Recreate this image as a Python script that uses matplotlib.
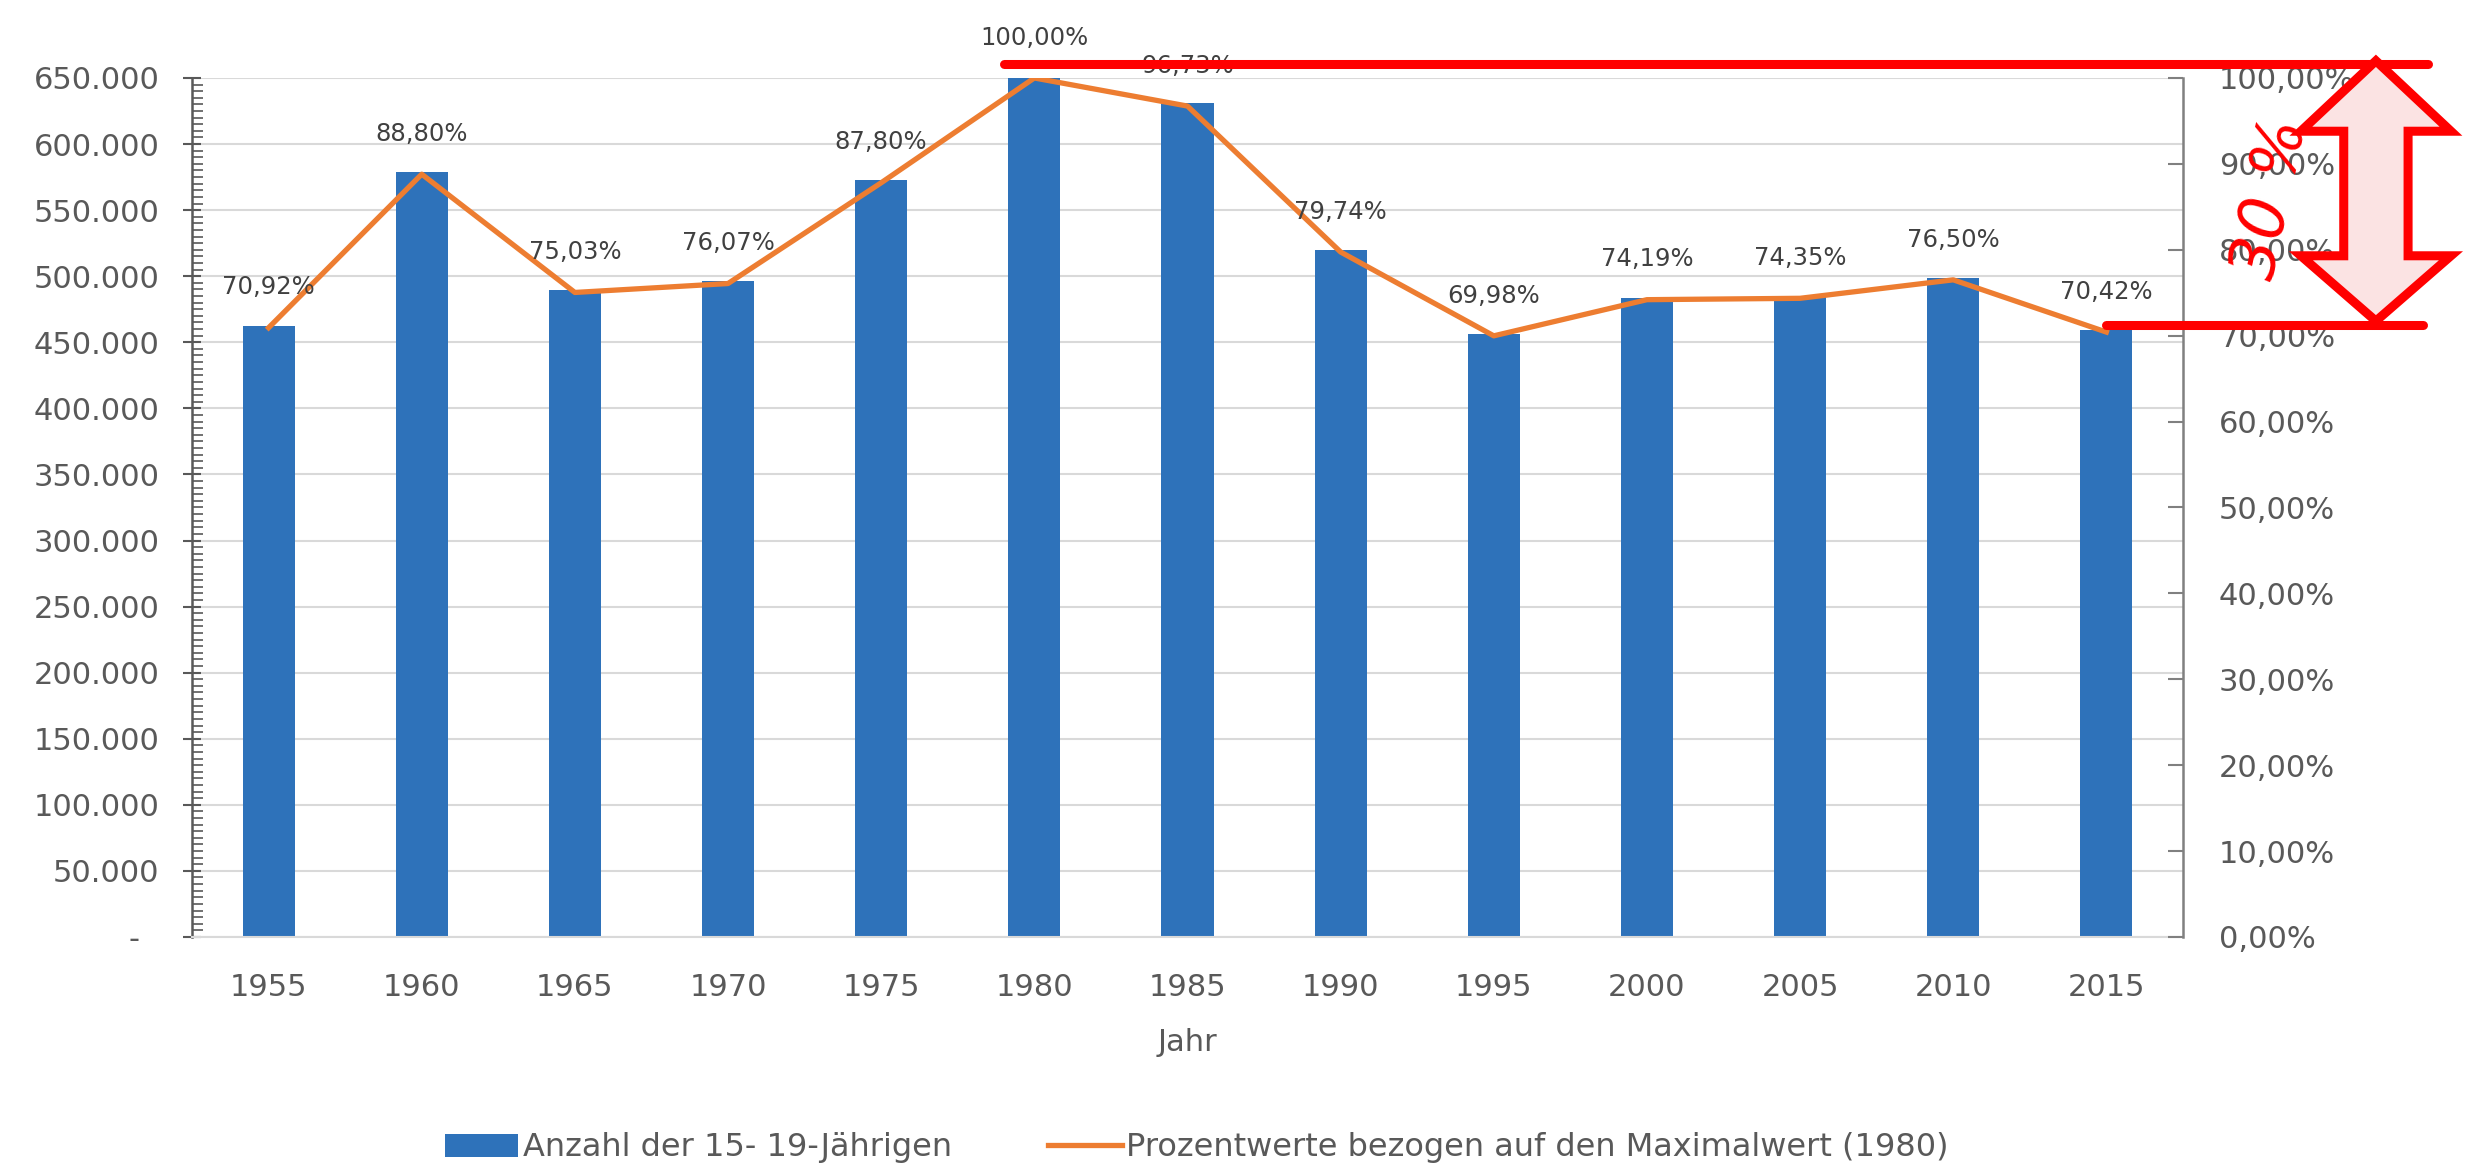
import numpy as np
import matplotlib
matplotlib.use('Agg')
import matplotlib.pyplot as plt
from matplotlib.patches import Polygon
from matplotlib.ticker import FuncFormatter, MultipleLocator

# data
years = ['1955', '1960', '1965', '1970', '1975', '1980', '1985',
         '1990', '1995', '2000', '2005', '2010', '2015']
anzahl = [462400, 579000, 489200, 496000, 572500, 652000, 630700,
          519900, 456300, 483700, 484800, 498800, 459100]
prozent = [0.7092, 0.8880, 0.7503, 0.7607, 0.8780, 1.0000, 0.9673,
           0.7974, 0.6998, 0.7419, 0.7435, 0.7650, 0.7042]

bar_label = 'Anzahl der 15- 19-Jährigen'
line_label = 'Prozentwerte bezogen auf den Maximalwert (1980)'

plt.rcParams['font.family'] = ['DejaVu Sans']
grey = '#595959'

fig = plt.figure(figsize=(24.68, 11.69), dpi=100)
ax = fig.add_axes([0.0778, 0.1985, 0.8067, 0.7348])
ax2 = ax.twinx()

x = np.arange(len(years))
bars = ax.bar(x, anzahl, width=0.34, color='#2E72BA', zorder=2)
line, = ax2.plot(x, prozent, color='#ED7D31', lw=3.8, solid_joinstyle='round', zorder=3)

for xi, p in zip(x, prozent):
    ax2.annotate(f'{p*100:.2f}%'.replace('.', ','), (xi, p), xytext=(0, 29),
                 textcoords='offset points', ha='center', va='center',
                 fontsize=17.5, color='#404040', zorder=4)

# left axis
ax.set_xlim(-0.5, len(years) - 0.5)
ax.set_ylim(0, 650000)
ax.yaxis.set_major_locator(MultipleLocator(50000))
ax.yaxis.set_minor_locator(MultipleLocator(5000))
ax.yaxis.set_major_formatter(FuncFormatter(
    lambda v, pos: '-  ' if v == 0 else f'{int(v):,}'.replace(',', '.')))
ax.tick_params(axis='y', which='major', direction='inout', length=13, width=1.5,
               color=grey, labelsize=22, labelcolor=grey, pad=17)
ax.tick_params(axis='y', which='minor', direction='in', length=8, width=1.2, color=grey)
ax.grid(axis='y', color='#D9D9D9', lw=1.5, zorder=0)
ax.set_axisbelow(True)
ax.set_xticks(x)
ax.set_xticklabels(years)
ax.tick_params(axis='x', length=0, labelsize=22, labelcolor=grey, pad=26)
ax.set_xlabel('Jahr', fontsize=22, color=grey, labelpad=19)

for s in ['top', 'right']:
    ax.spines[s].set_visible(False)
ax.spines['left'].set_color(grey)
ax.spines['left'].set_linewidth(1.8)
ax.spines['bottom'].set_color('#D9D9D9')
ax.spines['bottom'].set_linewidth(1.5)

# right axis
ax2.set_ylim(0, 1.0)
ax2.yaxis.set_major_locator(MultipleLocator(0.1))
ax2.yaxis.set_major_formatter(FuncFormatter(
    lambda v, pos: f'{v*100:.2f}%'.replace('.', ',')))
ax2.tick_params(axis='y', direction='in', length=11, width=1.5, color='#808080',
                labelsize=22, labelcolor=grey, pad=26)
for s in ['top', 'left', 'bottom']:
    ax2.spines[s].set_visible(False)
ax2.spines['right'].set_color('#808080')
ax2.spines['right'].set_linewidth(1.8)

# red annotation: 100 % vs 70 %
red = '#FF0000'
ax2.plot([4.8, 14.1], [1.016, 1.016], color=red, lw=6.5, solid_capstyle='round',
         clip_on=False, zorder=6)
ax2.plot([12.0, 14.07], [0.712, 0.712], color=red, lw=6.5, solid_capstyle='round',
         clip_on=False, zorder=6)

cx, hw, sw = 13.76, 0.49, 0.21
y_top, y_hb_top, y_hb_bot, y_bot = 1.02, 0.938, 0.793, 0.717
arrow = Polygon([(cx, y_top), (cx + hw, y_hb_top), (cx + sw, y_hb_top),
                 (cx + sw, y_hb_bot), (cx + hw, y_hb_bot), (cx, y_bot),
                 (cx - hw, y_hb_bot), (cx - sw, y_hb_bot), (cx - sw, y_hb_top),
                 (cx - hw, y_hb_top)], closed=True, facecolor='#FBE3E3',
                edgecolor=red, lw=6.5, joinstyle='miter', clip_on=False, zorder=6)
ax2.add_patch(arrow)
ax2.text(13.08, 0.86, '30 %', rotation=78, color=red, fontsize=46,
         fontstyle='italic', ha='center', va='center', clip_on=False, zorder=6)

fig.legend([bars, line], [bar_label, line_label], loc='center',
           bbox_to_anchor=(0.485, 0.018), ncol=2, frameon=False, fontsize=23,
           labelcolor=grey, handlelength=2.3, handleheight=0.75,
           handletextpad=0.15, columnspacing=3.0)

plt.savefig('out.png', dpi=100)
